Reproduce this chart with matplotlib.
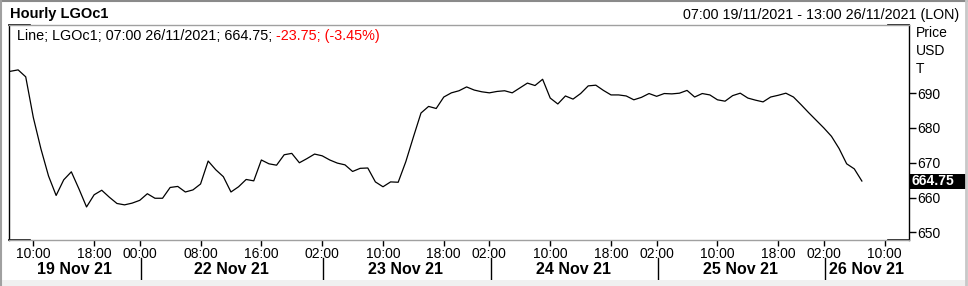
import numpy as np
import matplotlib.pyplot as plt
from matplotlib.patches import Rectangle
from matplotlib.transforms import blended_transform_factory

plt.rcParams['font.family'] = ['Liberation Sans', 'DejaVu Sans']

# trading sessions on the axis: day label, first and last hour shown
days = ["19 Nov 21", "22 Nov 21", "23 Nov 21", "24 Nov 21", "25 Nov 21", "26 Nov 21"]
first_hour = [7, 0, 2, 2, 2, 2]
last_hour = [23, 23, 23, 23, 23, 13]
tick_hours = [[10, 18], [0, 8, 16], [2, 10, 18], [2, 10, 18], [2, 10, 18], [2, 10]]

# hourly LGOc1 closes from 07:00 19/11 to 07:00 26/11
price = [
    696.3, 696.7, 694.7, 683.0, 674.0, 666.2, 660.6, 665.1, 667.4, 662.5,
    657.3, 660.8, 662.1, 660.1, 658.3, 657.9, 658.4, 659.2, 661.1, 659.8,
    659.8, 662.9, 663.2, 661.6, 662.2, 663.9, 670.5, 668.0, 666.0, 661.6,
    663.1, 665.2, 664.8, 670.8, 669.7, 669.3, 672.3, 672.7, 670.0, 671.2,
    672.5, 672.0, 670.8, 669.9, 669.4, 667.5, 668.4, 668.5, 664.5, 663.1,
    664.5, 664.4, 670.3, 677.4, 684.3, 686.2, 685.6, 688.9, 690.1, 690.7,
    691.8, 690.9, 690.4, 690.1, 690.5, 690.7, 690.1, 691.5, 692.9, 692.2,
    694.0, 688.6, 686.9, 689.2, 688.3, 689.9, 692.1, 692.3, 690.8, 689.5,
    689.5, 689.2, 688.1, 688.8, 689.9, 689.1, 689.9, 689.8, 690.0, 690.8,
    688.9, 689.9, 689.5, 688.1, 687.7, 689.3, 690.0, 688.6, 688.0, 687.5,
    688.9, 689.4, 690.0, 688.9, 686.7, 684.4, 682.2, 680.0, 677.6, 674.1,
    669.7, 668.25, 664.75,
]

yticks = [650, 660, 670, 680, 690]
last_text = "664.75"
change_text = "-23.75; (-3.45%)"

# build the slot list (one slot per traded hour)
slot_day, slot_hour = [], []
for d in range(len(days)):
    for h in range(first_hour[d], last_hour[d] + 1):
        slot_day.append(d)
        slot_hour.append(h)
n_slots = len(slot_day)

W, H = 968, 286
fig = plt.figure(figsize=(W / 100, H / 100), dpi=100, facecolor='white')

def px(x, y):
    return x / W, 1 - y / H

# plot box 9..909 x 25..240 px
ax = fig.add_axes([9 / W, (H - 240) / H, 900 / W, 215 / H])
x = np.arange(len(price))
ax.plot(x, price, color='black', lw=0.9, solid_joinstyle='round')
ax.set_xlim(-0.2, n_slots - 0.8)
ax.set_ylim(647.8, 709.6)

for s in ['top', 'bottom']:
    ax.spines[s].set_color('#a0a0a0')
for s in ['left', 'right']:
    ax.spines[s].set_color('black')
for s in ax.spines.values():
    s.set_linewidth(1)
# short black corner pieces on top and bottom
seg = 21 / 900
for yy in [0, 1]:
    ax.plot([0, seg], [yy, yy], color='black', lw=1.2, transform=ax.transAxes, clip_on=False)
    ax.plot([1 - seg, 1], [yy, yy], color='black', lw=1.2, transform=ax.transAxes, clip_on=False)

# right price axis
ax.yaxis.tick_right()
ax.set_yticks(yticks)
ax.set_yticklabels([str(v) for v in yticks])
ax.tick_params(axis='y', direction='out', length=5, width=1, pad=1, labelsize=10, colors='black')

# time ticks
tick_pos, tick_lab = [], []
for i in range(n_slots):
    if slot_hour[i] in tick_hours[slot_day[i]]:
        tick_pos.append(i)
        tick_lab.append("%02d:00" % slot_hour[i])
ax.set_xticks(tick_pos)
ax.set_xticklabels(tick_lab)
ax.tick_params(axis='x', direction='out', length=4, width=1, pad=1, labelsize=10, colors='black')

# day separators and day labels
bt = blended_transform_factory(ax.transData, ax.transAxes)
starts = [slot_day.index(d) for d in range(len(days))]
edges = [ax.get_xlim()[0]] + starts[1:] + [ax.get_xlim()[1]]
for s in starts[1:]:
    ax.plot([s + 0.15, s + 0.15], [-18 / 215, -39 / 215], color='black', lw=1,
            transform=bt, clip_on=False)
for d in range(len(days)):
    ax.text((edges[d] + edges[d + 1]) / 2, -29 / 215, days[d], transform=bt,
            ha='center', va='center', fontsize=11.5, fontweight='bold')

# last value box on the price axis
bl = blended_transform_factory(ax.transAxes, ax.transData)
ph = 3.479
ax.add_patch(Rectangle((1 + 1 / 900, price[-1] - 7.5 / ph), 56 / 900, 15 / ph,
                       transform=bl, facecolor='black', edgecolor='none', clip_on=False))
ax.text(1 + 2 / 900, price[-1], last_text, transform=bl, ha='left', va='center',
        color='white', fontsize=10, fontweight='bold')

# header texts
fig.text(*px(10, 14), "Hourly LGOc1", ha='left', va='center', fontsize=10.5, fontweight='bold')
fig.text(*px(959, 15), "07:00 19/11/2021 - 13:00 26/11/2021 (LON)", ha='right', va='center',
         fontsize=10.3)
t1 = fig.text(*px(17, 36), "Line; LGOc1; 07:00 26/11/2021; %s; " % last_text,
              ha='left', va='center', fontsize=10.4)
ax.annotate(change_text, xy=(1, 0), xycoords=t1, ha='left', va='bottom',
            fontsize=10.4, color='#ff0000', annotation_clip=False)

for lab, yy in [("Price", 33), ("USD", 51), ("T", 69)]:
    fig.text(*px(916, yy), lab, ha='left', va='center', fontsize=10)

# window frame
fig.patches.append(Rectangle((0, 0), 1, 6 / H, transform=fig.transFigure,
                             facecolor='#f0f0f0', edgecolor='none'))
fig.add_artist(plt.Line2D([0, 1], [1 - 0.5 / H, 1 - 0.5 / H], color='#8a8a8a', lw=1.5,
                          transform=fig.transFigure))
fig.add_artist(plt.Line2D([1 / W, 1 / W], [0, 1], color='#a0a0a0', lw=1.5,
                          transform=fig.transFigure))
fig.add_artist(plt.Line2D([1 - 2 / W, 1 - 2 / W], [0, 1], color='#c8c8c8', lw=2,
                          transform=fig.transFigure))

fig.savefig("out.png", dpi=100, facecolor='white')
